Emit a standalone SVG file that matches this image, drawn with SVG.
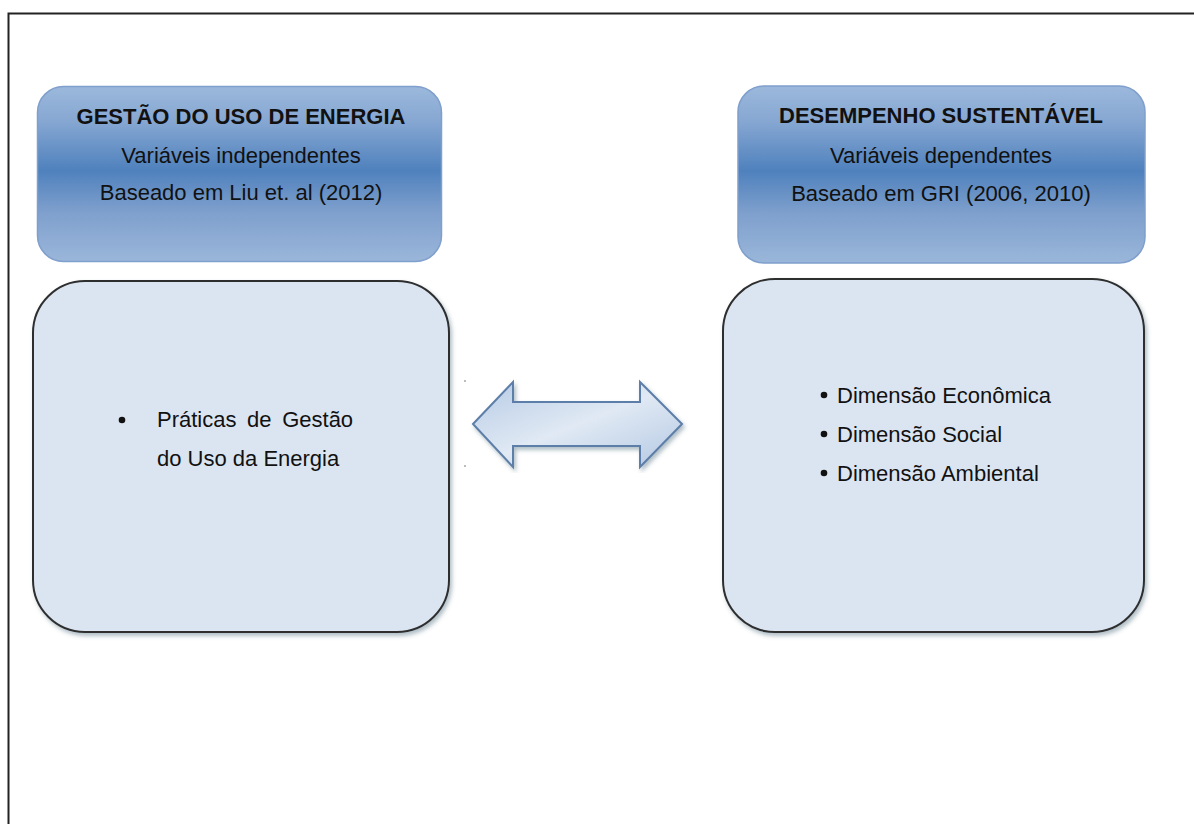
<svg xmlns="http://www.w3.org/2000/svg" width="1194" height="824" viewBox="0 0 1194 824">
<style>
text{font-family:"Liberation Sans",Arial,sans-serif;font-size:22px;fill:#111}
.t{font-weight:bold}
.c{text-anchor:middle}
.hdr{fill:url(#hg);stroke:#7f9fcc;stroke-width:1.5}
.box{fill:#dbe5f1;stroke:#2e2e2e;stroke-width:2}
</style>
<defs>
<linearGradient id="hg" x1="0" y1="0" x2="0" y2="1">
<stop offset="0" stop-color="#9cb8dc"/>
<stop offset="0.2" stop-color="#86a7d2"/>
<stop offset="0.48" stop-color="#4f81bd"/>
<stop offset="0.72" stop-color="#7fa0cd"/>
<stop offset="1" stop-color="#9ab6da"/>
</linearGradient>
<linearGradient id="ag" x1="0" y1="0" x2="1" y2="1">
<stop offset="0" stop-color="#b7cbe5"/>
<stop offset="0.5" stop-color="#e0e9f4"/>
<stop offset="1" stop-color="#b3c8e3"/>
</linearGradient>
<filter id="sh" x="-5%" y="-5%" width="112%" height="112%">
<feDropShadow dx="2" dy="3" stdDeviation="2" flood-color="#4f6f80" flood-opacity="0.45"/>
</filter>
</defs>
<rect x="8.5" y="13.5" width="1200" height="830" fill="#fff" stroke="#222" stroke-width="2"/>
<g id="header-left">
<rect class="hdr" x="37.5" y="86.5" width="404" height="175" rx="26"/>
<text class="t c" x="241" y="124">GESTÃO DO USO DE ENERGIA</text>
<text class="c" x="241" y="163">Variáveis independentes</text>
<text class="c" x="241" y="200">Baseado em Liu et. al (2012)</text>
</g>
<g id="header-right">
<rect class="hdr" x="738" y="86" width="407" height="177" rx="26"/>
<text class="t c" x="941" y="123">DESEMPENHO SUSTENTÁVEL</text>
<text class="c" x="941" y="163">Variáveis dependentes</text>
<text class="c" x="941" y="201">Baseado em GRI (2006, 2010)</text>
</g>
<g id="box-left">
<rect class="box" x="33" y="281" width="416" height="351" rx="52" filter="url(#sh)"/>
<circle cx="122" cy="420" r="3.3" fill="#111"/>
<text x="157" y="427" word-spacing="4.5">Práticas de Gestão</text>
<text x="157" y="466">do Uso da Energia</text>
</g>
<g id="box-right">
<rect class="box" x="723" y="279" width="421" height="353" rx="52" filter="url(#sh)"/>
<circle cx="824" cy="395" r="3.3" fill="#111"/>
<text x="837" y="403">Dimensão Econômica</text>
<circle cx="824" cy="434" r="3.3" fill="#111"/>
<text x="837" y="442">Dimensão Social</text>
<circle cx="824" cy="473" r="3.3" fill="#111"/>
<text x="837" y="481">Dimensão Ambiental</text>
</g>
<g id="connectors">
<circle cx="465" cy="381" r="0.8" fill="#666"/>
<circle cx="465" cy="466" r="0.8" fill="#666"/>
<path d="M473,424 L513,382 L513,402 L640,402 L640,382 L682,424 L640,467 L640,446 L513,446 L513,467 Z" fill="url(#ag)" stroke="#5d7ea8" stroke-width="2" stroke-linejoin="miter" filter="url(#sh)"/>
</g>
</svg>
